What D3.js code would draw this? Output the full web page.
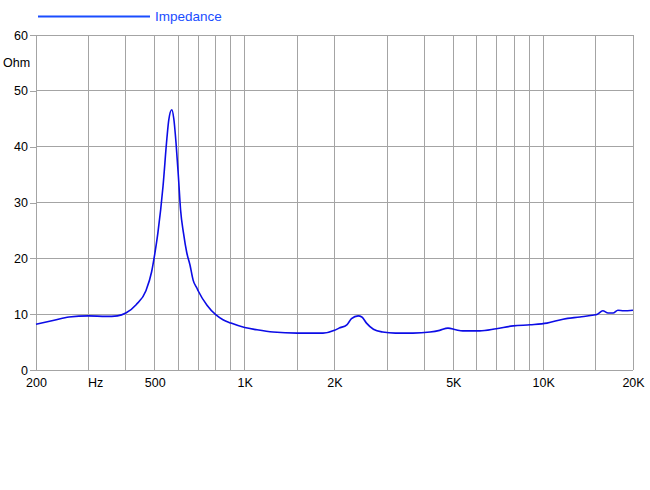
<!DOCTYPE html>
<html>
<head>
<meta charset="utf-8">
<script src="https://cdn.jsdelivr.net/npm/d3@7"></script>
<style>
  body { margin: 0; background: #fff; }
  svg { font-family: "Liberation Sans", Arial, sans-serif; }
</style>
</head>
<body>
<svg id="chart" width="650" height="490"></svg>
<script>
// impedance curve
const freqs = [200, 230, 258, 300, 343, 375, 400, 433, 467, 488, 500, 512, 533, 549, 557, 570, 579, 589, 600, 610,
    624, 640, 656, 672, 693, 700, 748, 800, 846, 900, 1000, 1100, 1245, 1500, 1830, 2000, 2070, 2200, 2280, 2400,
    2470, 2560, 2700, 2900, 3200, 3660, 4180, 4500, 4800, 5100, 5380, 6130, 6970, 7940, 9050, 10300, 11660, 13280,
    14600, 15200, 15840, 16500, 17150, 17800, 18600, 20000];
const ohms = [8.2, 8.9, 9.5, 9.7, 9.6, 9.7, 10.2, 11.7, 14.2, 17.6, 20.8, 24.5, 33.0, 41.5, 44.8, 46.6, 45.0, 40.7, 34.6, 28.7,
    24.5, 21.0, 18.8, 16.1, 14.6, 14.1, 11.6, 9.9, 9.0, 8.4, 7.6, 7.2, 6.8, 6.6, 6.6, 7.1, 7.5, 8.1, 9.2, 9.7,
    9.5, 8.4, 7.3, 6.8, 6.6, 6.6, 6.8, 7.1, 7.5, 7.2, 7.0, 7.0, 7.4, 7.9, 8.1, 8.4, 9.1, 9.5,
    9.8, 10.0, 10.6, 10.2, 10.2, 10.7, 10.6, 10.7];

const gridFreqs = [200, 300, 400, 500, 600, 700, 800, 900, 1000, 1500, 2000, 3000, 4000, 5000, 6000, 7000, 8000, 9000, 10000, 15000, 20000];
const xTickVals = [200, 500, 1000, 2000, 5000, 10000, 20000];
const xTickLabels = ['200', '500', '1K', '2K', '5K', '10K', '20K'];
const yTicks = [0, 10, 20, 30, 40, 50, 60];
const seriesName = 'Impedance';
const unitX = 'Hz';
const unitY = 'Ohm';

const margin = {left: 36, top: 35, right: 17, bottom: 120};
const width = 650, height = 490;

const x = d3.scaleLog()
    .domain([200, 20000])
    .range([margin.left, width - margin.right]);

const y = d3.scaleLinear()
    .domain([0, 60])
    .range([height - margin.bottom, margin.top]);

const svg = d3.select('#chart');
const gridColor = '#a4a4a4';
const lineColor = '#0c0ce6';
const legendColor = '#1a4dff';

// vertical grid
svg.append('g')
    .selectAll('line')
    .data(gridFreqs).enter()
    .append('line')
        .attr('x1', d => x(d)).attr('x2', d => x(d))
        .attr('y1', y(0)).attr('y2', y(60))
        .attr('stroke', gridColor)
        .attr('stroke-width', 1)
        .attr('shape-rendering', 'crispEdges');

// horizontal grid
svg.append('g')
    .selectAll('line')
    .data(yTicks).enter()
    .append('line')
        .attr('x1', x(200)).attr('x2', x(20000))
        .attr('y1', d => y(d)).attr('y2', d => y(d))
        .attr('stroke', gridColor)
        .attr('stroke-width', 1)
        .attr('shape-rendering', 'crispEdges');

// y axis
const yAxis = d3.axisLeft(y)
    .tickValues(yTicks)
    .tickSize(6)
    .tickPadding(2);

const gy = svg.append('g')
    .attr('transform', 'translate(' + x(200) + ',0)')
    .call(yAxis);
gy.select('.domain').remove();
gy.selectAll('line').attr('stroke', gridColor).attr('shape-rendering', 'crispEdges');
gy.selectAll('text')
    .attr('font-size', 12.5)
    .attr('font-family', '"Liberation Sans", Arial, sans-serif')
    .attr('fill', '#000');

// x axis labels
const xAxis = d3.axisBottom(x)
    .tickValues(xTickVals)
    .tickFormat((d, i) => xTickLabels[i])
    .tickSize(0)
    .tickPadding(8);

const gx = svg.append('g')
    .attr('transform', 'translate(0,' + y(0) + ')')
    .call(xAxis);
gx.select('.domain').remove();
gx.selectAll('text')
    .attr('font-size', 12.5)
    .attr('font-family', '"Liberation Sans", Arial, sans-serif')
    .attr('fill', '#000');

svg.append('text')
    .attr('x', x(300) + 7)
    .attr('y', y(0) + 8)
    .attr('dy', '0.71em')
    .attr('text-anchor', 'middle')
    .attr('font-size', 12.5)
    .text(unitX);

svg.append('text')
    .attr('x', 3)
    .attr('y', y(55) + 4)
    .attr('font-size', 12.5)
    .text(unitY);

// curve
const line = d3.line()
    .x((d, i) => x(freqs[i]))
    .y(d => y(d))
    .curve(d3.curveMonotoneX);

svg.append('path')
    .datum(ohms)
    .attr('d', line)
    .attr('fill', 'none')
    .attr('stroke', lineColor)
    .attr('stroke-width', 1.6)
    .attr('stroke-linejoin', 'round');

// legend
svg.append('line')
    .attr('x1', 38).attr('x2', 150)
    .attr('y1', 16.5).attr('y2', 16.5)
    .attr('stroke', legendColor)
    .attr('stroke-width', 2);

svg.append('text')
    .attr('x', 155)
    .attr('y', 21)
    .attr('font-size', 13.5)
    .attr('fill', legendColor)
    .text(seriesName);
</script>
</body>
</html>
